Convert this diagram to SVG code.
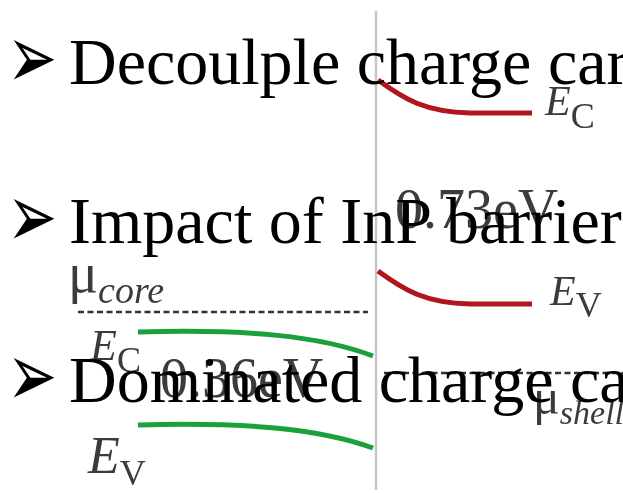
<svg xmlns="http://www.w3.org/2000/svg" width="623" height="493" viewBox="0 0 623 493">
<defs>
<style>
.bul{font-family:"DejaVu Sans",sans-serif;font-size:60px;fill:#000}
.txt{font-family:"Liberation Serif","Times New Roman",serif;font-size:66px;fill:#000}
.lab{font-family:"Liberation Serif","Times New Roman",serif;fill:#3a3a3a}
.it{font-style:italic}
.red{fill:none;stroke:#b0121b;stroke-width:5;stroke-linecap:butt}
.grn{fill:none;stroke:#1fa03e;stroke-width:5;stroke-linecap:butt}
.dash{fill:none;stroke:#333;stroke-width:2.5;stroke-dasharray:6 3.5}
</style>
<filter id="soft" x="-5%" y="-5%" width="110%" height="110%"><feGaussianBlur stdDeviation="0.6"/></filter>
</defs>
<rect width="623" height="493" fill="#fff"/>
<g id="band-diagram" filter="url(#soft)">
<line x1="376" y1="11" x2="376" y2="490" stroke="#c6c6c6" stroke-width="2.5"/>
<path class="red" d="M378,80 C404,99 425,112 470,113 L532,113"/>
<path class="red" d="M378,271 C404,290 425,303 470,304 L532,304"/>
<path class="grn" d="M138,332 C250,329 320,336 373,356"/>
<path class="grn" d="M138,425 C250,422 320,429 373,448"/>
<line class="dash" x1="78" y1="312" x2="368" y2="312"/>
<line class="dash" x1="384" y1="373" x2="623" y2="373"/>
<text class="lab" x="545" y="115"><tspan class="it" font-size="42">E</tspan><tspan font-size="36" dy="13">C</tspan></text>
<text class="lab" x="550" y="305"><tspan class="it" font-size="42">E</tspan><tspan font-size="36" dy="12">V</tspan></text>
<text class="lab" x="395" y="228" font-size="56">0.73eV</text>
<text class="lab" x="68" y="292"><tspan font-size="56">μ</tspan><tspan class="it" font-size="38" dy="11">core</tspan></text>
<text class="lab" x="90" y="360"><tspan class="it" font-size="44">E</tspan><tspan font-size="36" dy="12">C</tspan></text>
<text class="lab" x="160" y="397" font-size="56">0.36eV</text>
<text class="lab" x="88" y="473"><tspan class="it" font-size="52">E</tspan><tspan font-size="36" dy="12">V</tspan></text>
<text class="lab" x="533" y="414"><tspan font-size="50">μ</tspan><tspan class="it" font-size="34" dy="10">shell</tspan></text>
</g>
<g id="bullet-1">
<text class="bul" transform="translate(7,88) scale(1,1.5)">➢</text>
<text class="txt" x="69" y="84">Decoulple charge car</text>
</g>
<g id="bullet-2">
<text class="bul" transform="translate(7,247) scale(1,1.5)">➢</text>
<text class="txt" x="69" y="243">Impact of InP barrier</text>
</g>
<g id="bullet-3">
<text class="bul" transform="translate(7,406) scale(1,1.5)">➢</text>
<text class="txt" x="69" y="402">Dominated charge ca</text>
</g>
</svg>
